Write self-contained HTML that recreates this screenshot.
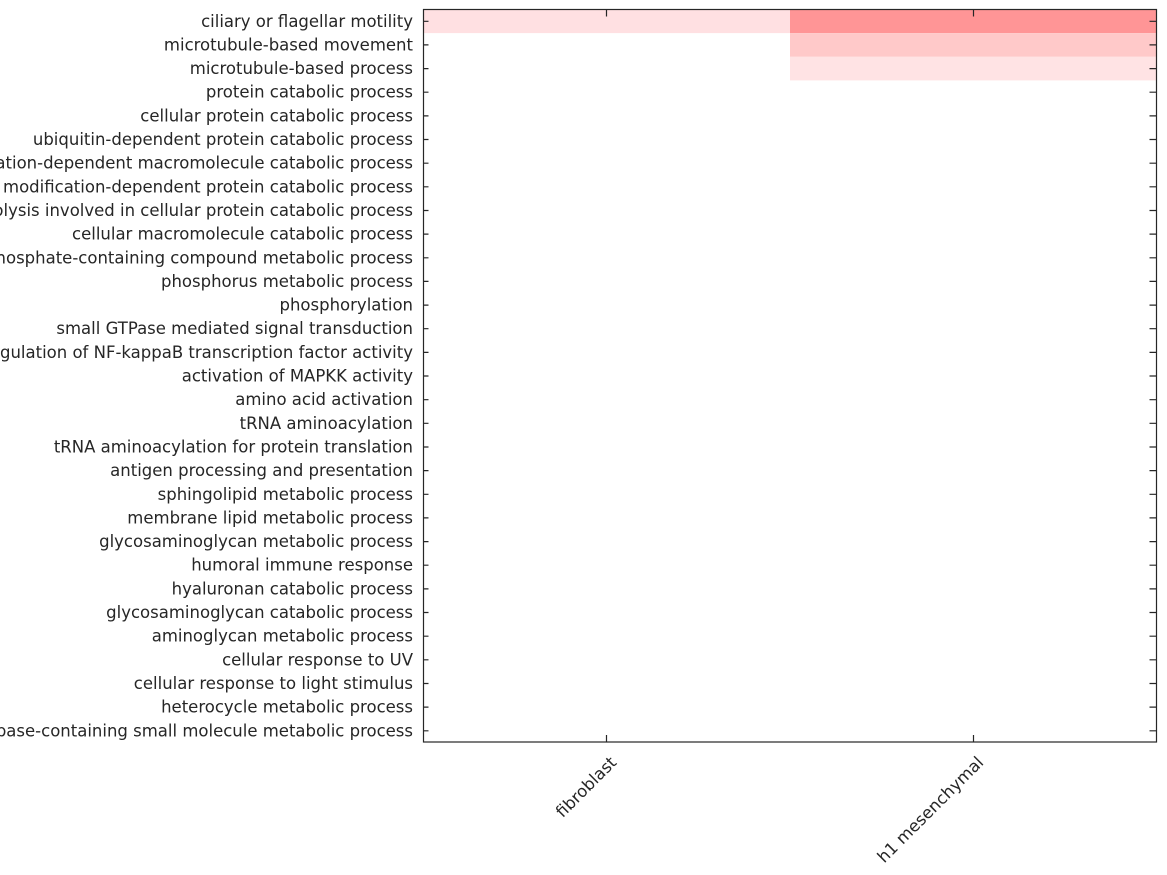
<!DOCTYPE html>
<html><head><meta charset="utf-8"><style>
html,body{margin:0;padding:0;background:#fff;}
svg{display:block;}
text{font-family:"DejaVu Sans","Liberation Sans",sans-serif;font-size:16.5px;fill:#262626;}
</style></head><body>
<svg width="1167" height="875" xmlns="http://www.w3.org/2000/svg">
<rect x="423.5" y="9.5" width="367" height="23.6" fill="#ffe0e2"/>
<rect x="790" y="9.5" width="366.5" height="23.6" fill="#ff9596"/>
<rect x="790" y="33.1" width="366.5" height="23.7" fill="#ffc9c9"/>
<rect x="790" y="56.8" width="366.5" height="23.6" fill="#ffe3e4"/>
<g id="labels" text-anchor="end" dominant-baseline="central">
<text x="413" y="21.3">ciliary or flagellar motility</text>
<text x="413" y="44.9">microtubule-based movement</text>
<text x="413" y="68.6">microtubule-based process</text>
<text x="413" y="92.2">protein catabolic process</text>
<text x="413" y="115.9">cellular protein catabolic process</text>
<text x="413" y="139.5">ubiquitin-dependent protein catabolic process</text>
<text x="413" y="163.2">modification-dependent macromolecule catabolic process</text>
<text x="413" y="186.8">modification-dependent protein catabolic process</text>
<text x="413" y="210.5">proteolysis involved in cellular protein catabolic process</text>
<text x="413" y="234.1">cellular macromolecule catabolic process</text>
<text x="413" y="257.8">phosphate-containing compound metabolic process</text>
<text x="413" y="281.4">phosphorus metabolic process</text>
<text x="413" y="305.1">phosphorylation</text>
<text x="413" y="328.7">small GTPase mediated signal transduction</text>
<text x="413" y="352.4">positive regulation of NF-kappaB transcription factor activity</text>
<text x="413" y="376.0">activation of MAPKK activity</text>
<text x="413" y="399.7">amino acid activation</text>
<text x="413" y="423.3">tRNA aminoacylation</text>
<text x="413" y="447.0">tRNA aminoacylation for protein translation</text>
<text x="413" y="470.6">antigen processing and presentation</text>
<text x="413" y="494.3">sphingolipid metabolic process</text>
<text x="413" y="517.9">membrane lipid metabolic process</text>
<text x="413" y="541.6">glycosaminoglycan metabolic process</text>
<text x="413" y="565.2">humoral immune response</text>
<text x="413" y="588.9">hyaluronan catabolic process</text>
<text x="413" y="612.5">glycosaminoglycan catabolic process</text>
<text x="413" y="636.2">aminoglycan metabolic process</text>
<text x="413" y="659.8">cellular response to UV</text>
<text x="413" y="683.5">cellular response to light stimulus</text>
<text x="413" y="707.1">heterocycle metabolic process</text>
<text x="413" y="730.8">nucleobase-containing small molecule metabolic process</text>
</g>
<g stroke="#262626" stroke-width="1.2" fill="none">
<rect x="423.5" y="9.5" width="733" height="732.5"/>
<path d="M423.5 21.3h5M423.5 44.9h5M423.5 68.6h5M423.5 92.2h5M423.5 115.9h5M423.5 139.5h5M423.5 163.2h5M423.5 186.8h5M423.5 210.5h5M423.5 234.1h5M423.5 257.8h5M423.5 281.4h5M423.5 305.1h5M423.5 328.7h5M423.5 352.4h5M423.5 376h5M423.5 399.7h5M423.5 423.3h5M423.5 447h5M423.5 470.6h5M423.5 494.3h5M423.5 517.9h5M423.5 541.6h5M423.5 565.2h5M423.5 588.9h5M423.5 612.5h5M423.5 636.2h5M423.5 659.8h5M423.5 683.5h5M423.5 707.1h5M423.5 730.8h5"/>
<path d="M1156.5 21.3h-7M1156.5 44.9h-7M1156.5 68.6h-7M1156.5 92.2h-7M1156.5 115.9h-7M1156.5 139.5h-7M1156.5 163.2h-7M1156.5 186.8h-7M1156.5 210.5h-7M1156.5 234.1h-7M1156.5 257.8h-7M1156.5 281.4h-7M1156.5 305.1h-7M1156.5 328.7h-7M1156.5 352.4h-7M1156.5 376h-7M1156.5 399.7h-7M1156.5 423.3h-7M1156.5 447h-7M1156.5 470.6h-7M1156.5 494.3h-7M1156.5 517.9h-7M1156.5 541.6h-7M1156.5 565.2h-7M1156.5 588.9h-7M1156.5 612.5h-7M1156.5 636.2h-7M1156.5 659.8h-7M1156.5 683.5h-7M1156.5 707.1h-7M1156.5 730.8h-7"/>
<path d="M606.5 9.5v7M973.5 9.5v7M606.5 742v-7M973.5 742v-7"/>
</g>
<text transform="translate(609,755) rotate(-45)" text-anchor="end" dominant-baseline="hanging">fibroblast</text>
<text transform="translate(976,755) rotate(-45)" text-anchor="end" dominant-baseline="hanging">h1 mesenchymal</text>
</svg>
</body></html>
